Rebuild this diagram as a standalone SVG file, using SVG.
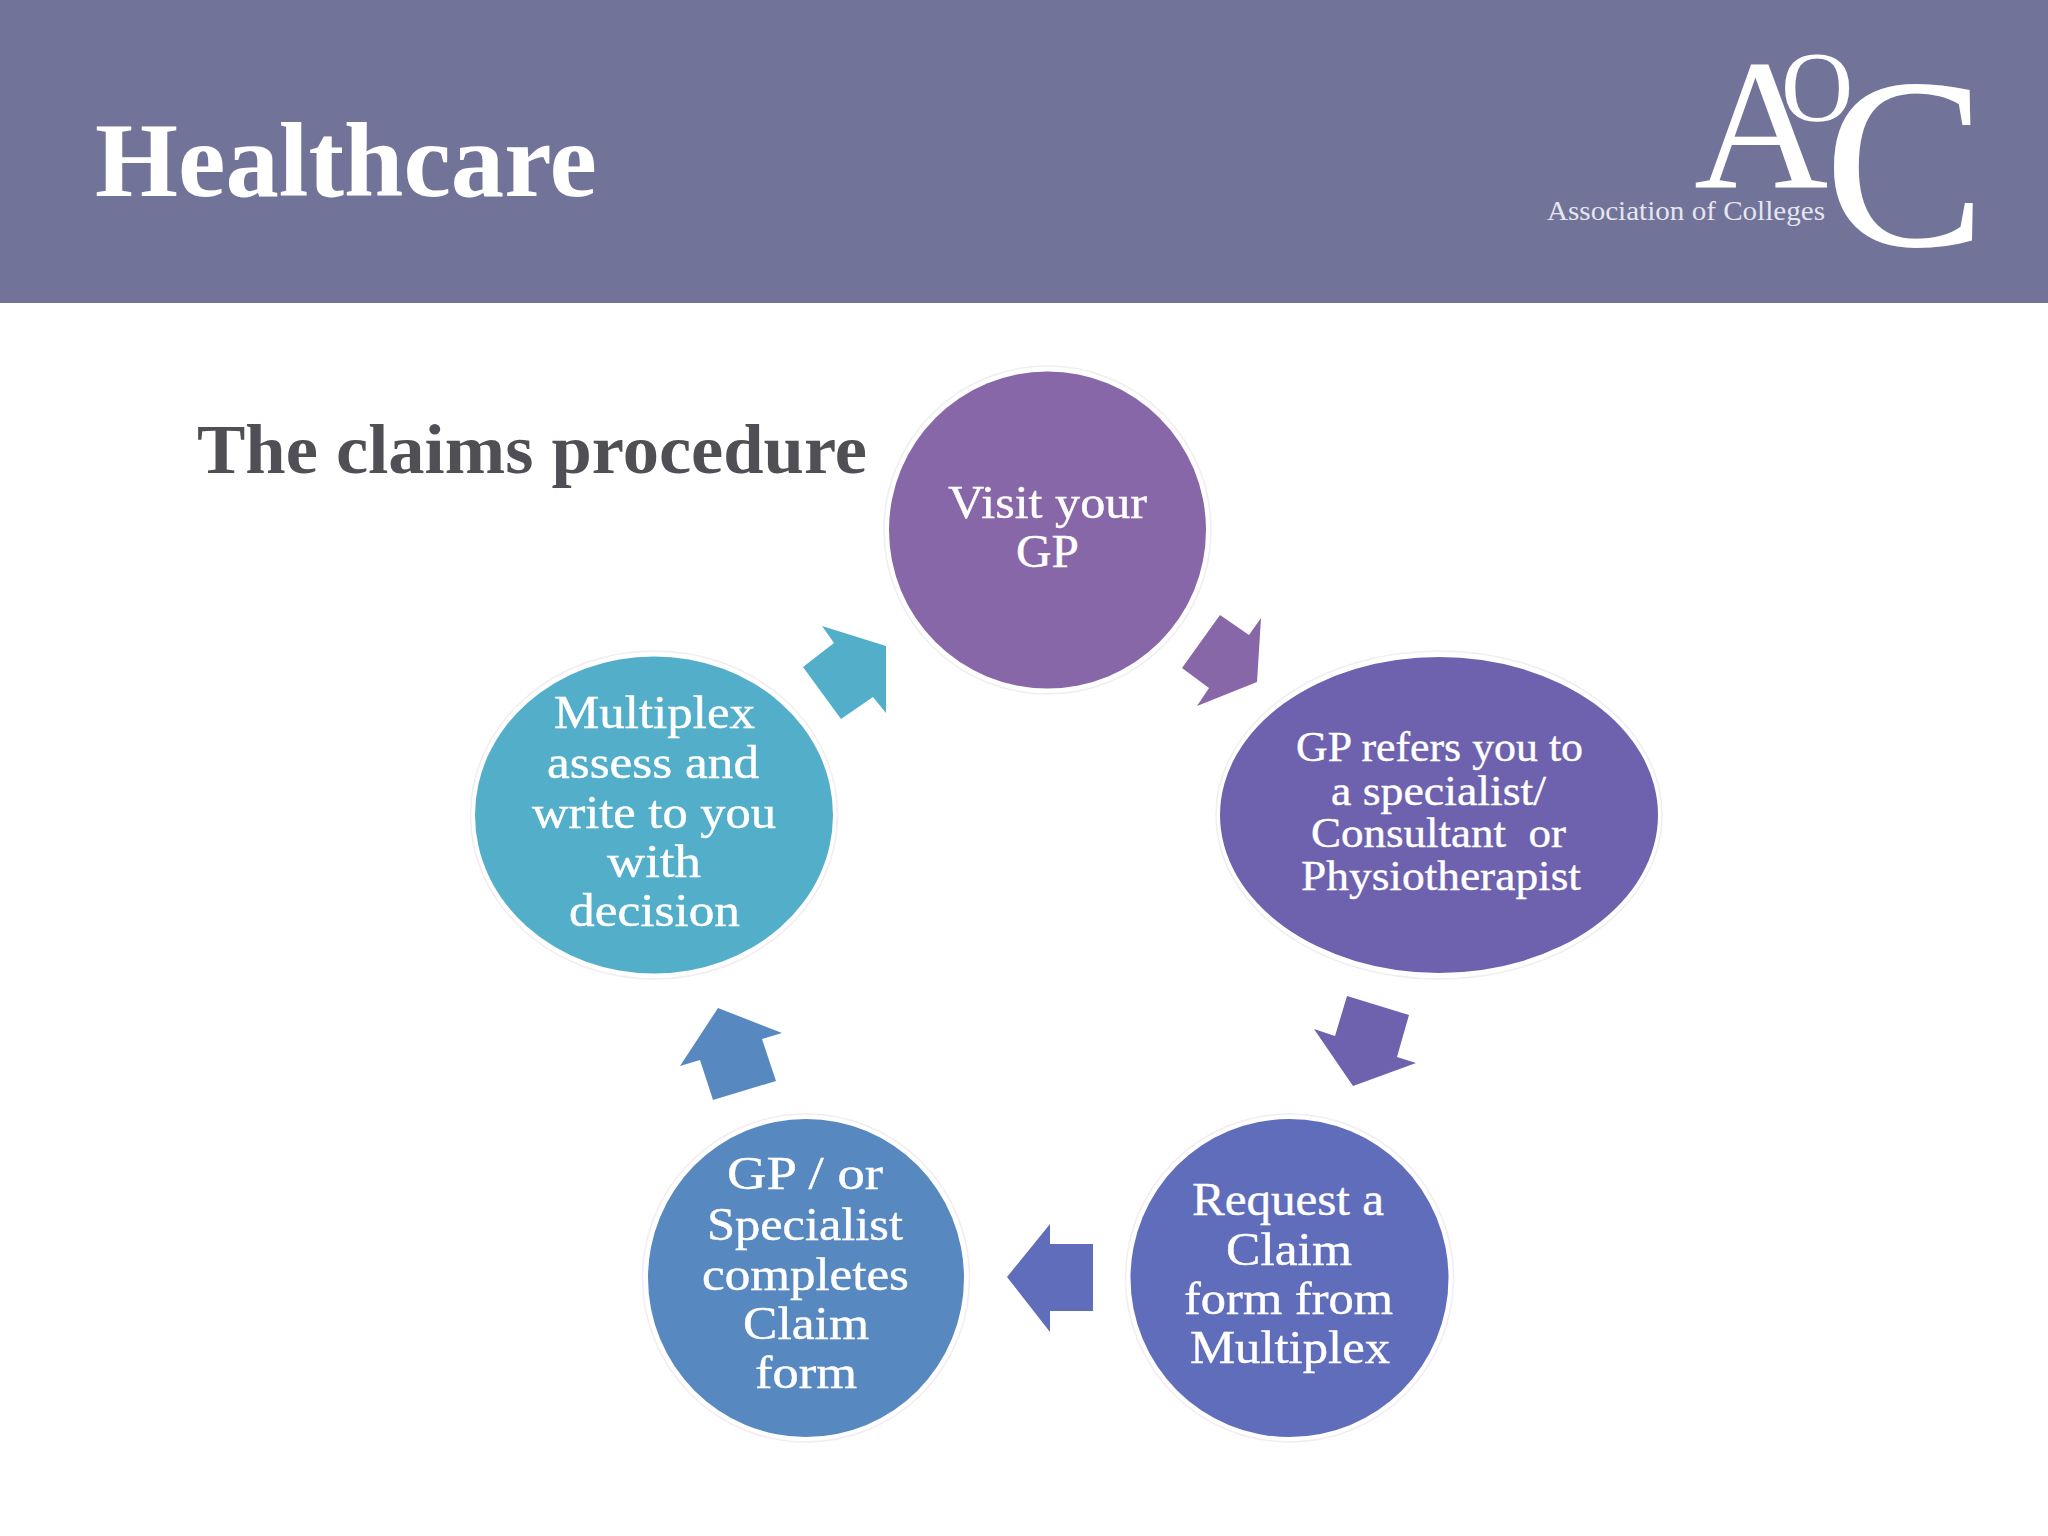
<svg xmlns="http://www.w3.org/2000/svg" width="2048" height="1536" viewBox="0 0 2048 1536">
<defs>
<style>
text{font-family:"Liberation Serif","Times New Roman",serif;}
.ring{fill:#ffffff;stroke:#f1edf3;stroke-width:1.5;}
.lbl{fill:#ffffff;font-size:46px;stroke:#ffffff;stroke-width:.4;}
.lbl2{fill:#ffffff;font-size:43px;stroke:#ffffff;stroke-width:.4;}
.logo{fill:#ffffff;}
</style>
</defs>
<rect width="2048" height="1536" fill="#ffffff"/>
<rect id="header" width="2048" height="303" fill="#727399"/>
<text id="title" x="95" y="196" font-size="106" font-weight="bold" fill="#ffffff" textLength="502" lengthAdjust="spacingAndGlyphs">Healthcare</text>
<g id="logo" class="logo">
<text x="1694" y="188" font-size="186">A</text>
<text x="1781" y="120" font-size="100">O</text>
<text x="1824" y="246" font-size="243">C</text>
<text x="1547" y="220" font-size="28" fill="#e6e6f0" textLength="278" lengthAdjust="spacingAndGlyphs">Association of Colleges</text>
</g>
<text id="subtitle" x="197" y="473" font-size="69" font-weight="bold" fill="#4f4f55" textLength="670" lengthAdjust="spacingAndGlyphs">The claims procedure</text>
<g id="connectors">
<polygon fill="#8767a7" points="1220,615 1249,635 1261,618 1257,682 1197,706 1209,688 1182,668"/>
<polygon fill="#6e62ae" points="1347,996 1409,1015 1397,1057 1416,1063 1353,1086 1314,1029 1335,1036"/>
<polygon fill="#5f6dba" points="1050,1224 1050,1244 1093,1244 1093,1311 1050,1311 1050,1332 1007,1277"/>
<polygon fill="#5789c0" points="718,1008 782,1033 762,1039 776,1081 713,1100 700,1060 680,1066"/>
<polygon fill="#53aeca" points="822,626 886,646 886,713 873,697 841,719 803,667 834,643"/>
</g>
<g id="node-visit-gp">
<ellipse class="ring" cx="1047.500" cy="530" rx="163.500" ry="164"/>
<ellipse cx="1047.500" cy="530" rx="158.500" ry="158.500" fill="#8767a7"/>
<text class="lbl" x="948" y="518" textLength="199" lengthAdjust="spacingAndGlyphs">Visit your</text>
<text class="lbl" x="1016" y="567" textLength="63" lengthAdjust="spacingAndGlyphs">GP</text>
</g>
<g id="node-gp-refers">
<ellipse class="ring" cx="1439" cy="815" rx="223" ry="164"/>
<ellipse cx="1439" cy="815" rx="219" ry="158" fill="#6e62ae"/>
<text class="lbl2" x="1296" y="761" textLength="287" lengthAdjust="spacingAndGlyphs">GP refers you to</text>
<text class="lbl2" x="1331" y="805" textLength="215" lengthAdjust="spacingAndGlyphs">a specialist/</text>
<text class="lbl2" x="1311" y="847" textLength="255" lengthAdjust="spacingAndGlyphs" xml:space="preserve">Consultant  or</text>
<text class="lbl2" x="1301" y="890" textLength="280" lengthAdjust="spacingAndGlyphs">Physiotherapist</text>
</g>
<g id="node-request-claim">
<ellipse class="ring" cx="1289.500" cy="1278" rx="164" ry="164"/>
<ellipse cx="1289.500" cy="1278" rx="159" ry="159" fill="#5f6dba"/>
<text class="lbl" x="1192" y="1215" textLength="192" lengthAdjust="spacingAndGlyphs">Request a</text>
<text class="lbl" x="1226" y="1265" textLength="126" lengthAdjust="spacingAndGlyphs">Claim</text>
<text class="lbl" x="1184" y="1314" textLength="209" lengthAdjust="spacingAndGlyphs">form from</text>
<text class="lbl" x="1190" y="1363" textLength="200" lengthAdjust="spacingAndGlyphs">Multiplex</text>
</g>
<g id="node-completes-claim">
<ellipse class="ring" cx="806" cy="1278" rx="163.500" ry="164"/>
<ellipse cx="806" cy="1278" rx="158" ry="159" fill="#5789c0"/>
<text class="lbl" x="727" y="1189" textLength="156" lengthAdjust="spacingAndGlyphs">GP / or</text>
<text class="lbl" x="707" y="1240" textLength="196" lengthAdjust="spacingAndGlyphs">Specialist</text>
<text class="lbl" x="702" y="1290" textLength="207" lengthAdjust="spacingAndGlyphs">completes</text>
<text class="lbl" x="743" y="1339" textLength="126" lengthAdjust="spacingAndGlyphs">Claim</text>
<text class="lbl" x="755" y="1388" textLength="102" lengthAdjust="spacingAndGlyphs">form</text>
</g>
<g id="node-multiplex-assess">
<ellipse class="ring" cx="654" cy="815" rx="183.500" ry="164"/>
<ellipse cx="654" cy="815" rx="179" ry="158.500" fill="#53aeca"/>
<text class="lbl" x="554" y="728" textLength="201" lengthAdjust="spacingAndGlyphs">Multiplex</text>
<text class="lbl" x="547" y="778" textLength="212" lengthAdjust="spacingAndGlyphs">assess and</text>
<text class="lbl" x="532" y="828" textLength="244" lengthAdjust="spacingAndGlyphs">write to you</text>
<text class="lbl" x="607" y="877" textLength="94" lengthAdjust="spacingAndGlyphs">with</text>
<text class="lbl" x="569" y="926" textLength="171" lengthAdjust="spacingAndGlyphs">decision</text>
</g>
</svg>
